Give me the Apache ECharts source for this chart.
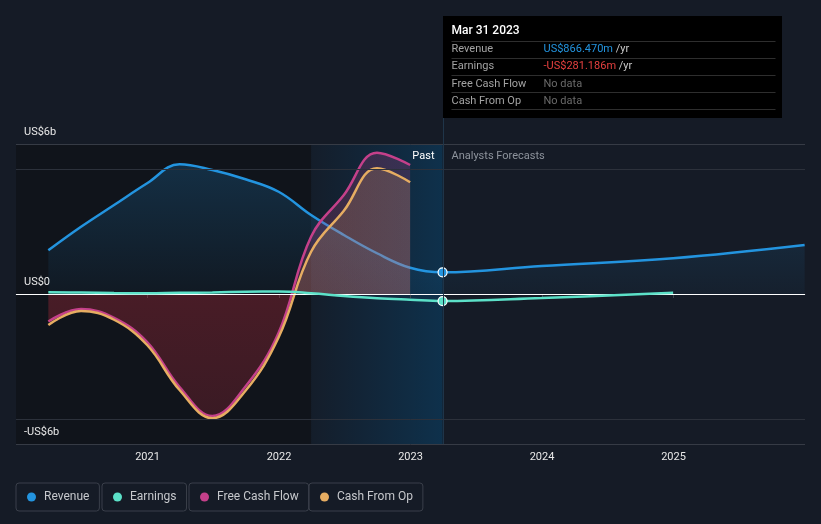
<!DOCTYPE html>
<html><head><meta charset="utf-8">
<script src="https://cdn.jsdelivr.net/npm/echarts@6/dist/echarts.min.js"></script>
<style>html,body{margin:0;padding:0;background:#151b26;}#c{width:821px;height:524px;}</style>
</head><body><div id="c"></div>
<script>
// ---- data (values in US$ billions) ----
const pastDates = ['2020-03-31','2020-06-30','2020-09-30','2020-12-31','2021-03-31','2021-06-30','2021-09-30','2021-12-31','2022-03-31','2022-06-30','2022-09-30','2022-12-31','2023-03-31'];
const revenuePast = [1.75, 2.69, 3.56, 4.43, 5.19, 4.96, 4.59, 4.09, 3.16, 2.36, 1.63, 1.05, 0.866];
const revenueForecastDates = ['2023-12-31','2024-12-31','2025-12-31'];
const revenueForecast = [1.12, 1.43, 1.96];
const earningsPast = [0.07, 0.06, 0.04, 0.03, 0.05, 0.06, 0.09, 0.10, 0.03, -0.08, -0.17, -0.23, -0.281];
const earningsForecastDates = ['2023-12-31','2024-12-31'];
const earningsForecast = [-0.16, 0.05];
const cashDates = ['2020-03-31','2020-06-30','2020-09-30','2020-12-31','2021-03-31','2021-06-30','2021-09-30','2021-12-31','2022-03-31','2022-06-30','2022-09-30','2022-12-31'];
const fcfValues = [-1.10, -0.60, -0.95, -1.92, -3.72, -4.88, -3.70, -1.55, 2.29, 3.96, 5.65, 5.16];
const cfoValues = [-1.24, -0.68, -1.03, -2.04, -3.84, -4.97, -3.87, -1.73, 1.69, 3.33, 5.03, 4.47];
const yearTicks = [2021, 2022, 2023, 2024, 2025];
const yTickLabels = {'-6': '-US$6b', '0': 'US$0', '6': 'US$6b'};
const extraGridValues = [-5, 5];
const xRange = [2020, 2026];
const yRange = [-6, 6];
const bandStart = '2022-03-31';
const nowDate = '2023-03-31';

const C = {rev:'#2394df', earn:'#5ce1c8', fcf:'#c4408a', cfo:'#e6ad62'};

function yf(s){const d=new Date(s+'T00:00:00Z');const y=d.getUTCFullYear();const a=Date.UTC(y,0,1),b=Date.UTC(y+1,0,1);return y+(d-a)/(b-a);}
function zip(ds,vs,markLast){return ds.map((d,i)=>{const it={value:[yf(d),vs[i]]};if(markLast&&d===nowDate){it.symbol='circle';it.symbolSize=9;}return it;});}

const chart = echarts.init(document.getElementById('c'));
const gridTop=144, gridH=300;
const revData = zip(pastDates.concat(revenueForecastDates), revenuePast.concat(revenueForecast), true);
const earnData = zip(pastDates.concat(earningsForecastDates), earningsPast.concat(earningsForecast), true);

function legend(name,left){return {data:[{name:name,icon:'circle'}],left:left,top:483,itemWidth:9,itemHeight:9,selectedMode:false,
 itemStyle:{borderWidth:0},
 borderColor:'#3a3f4a',borderWidth:1,borderRadius:3,padding:[8,10,8,11],
 textStyle:{color:'#c6c8cc',fontSize:12,fontFamily:'Roboto',padding:[0,0,0,3]}};}

const option = {
 backgroundColor:'#151b26',
 animation:false,
 textStyle:{fontFamily:'Roboto'},
 grid:{left:16,right:16,top:gridTop,height:gridH},
 legend:[legend('Revenue',16),legend('Earnings',102),legend('Free Cash Flow',189),legend('Cash From Op',309)],
 xAxis:{type:'value',min:xRange[0],max:xRange[1],interval:1,
  axisLine:{lineStyle:{color:'#3d424c'}},
  axisTick:{show:true,customValues:yearTicks,length:4,lineStyle:{color:'#3d424c'}},
  axisLabel:{customValues:yearTicks,color:'#e8e8e8',fontSize:11,margin:8,formatter:v=>String(v)},
  splitLine:{show:false}},
 yAxis:{type:'value',min:yRange[0],max:yRange[1],interval:6,
  axisLine:{show:false},axisTick:{show:false},
  axisLabel:{inside:true,margin:8,color:'#e8e8e8',fontSize:11,verticalAlign:'bottom',padding:[0,0,6,0],formatter:v=>yTickLabels[String(v)]||''},
  splitLine:{show:true,lineStyle:{color:'#363b45',width:1}}},
 series:[
  {type:'line',name:'bg',data:[],z:-1,zlevel:0,silent:true,
   markArea:{silent:true,z:-1,data:[
    [{xAxis:xRange[0],itemStyle:{color:'#10141b'}},{xAxis:yf(bandStart)}],
    [{xAxis:yf(bandStart),itemStyle:{color:{type:'linear',x:0,y:0,x2:1,y2:0,colorStops:[{offset:0,color:'rgba(0,90,150,0.04)'},{offset:1,color:'rgba(0,95,155,0.32)'}]}}},{xAxis:yf(nowDate)}]
   ]},
   markLine:{silent:true,symbol:'none',label:{show:false},lineStyle:{color:'#2c313b',width:1,type:'solid'},data:extraGridValues.map(v=>({yAxis:v}))}
  },
  {type:'line',name:'Revenue',data:revData,z:2,smooth:0.4,showSymbol:true,symbol:'none',
   lineStyle:{color:C.rev,width:2.5},itemStyle:{color:C.rev,borderColor:'#fff',borderWidth:1.2},
   areaStyle:{color:{type:'linear',x:0,y:0,x2:0,y2:1,colorStops:[{offset:0,color:'rgba(35,148,223,0.30)'},{offset:1,color:'rgba(35,148,223,0.06)'}]}}},
  {type:'line',name:'Free Cash Flow',data:zip(cashDates,fcfValues),z:3,smooth:0.4,showSymbol:false,
   lineStyle:{color:C.fcf,width:2.5},itemStyle:{color:C.fcf},
   areaStyle:{color:{type:'linear',global:true,x:0,y:gridTop,x2:0,y2:gridTop+gridH,colorStops:[
     {offset:0,color:'rgba(190,70,140,0.33)'},{offset:0.5,color:'rgba(190,70,140,0.33)'},
     {offset:0.5,color:'rgba(155,40,55,0.58)'},{offset:1,color:'rgba(150,40,55,0.42)'}]}}},
  {type:'line',name:'Cash From Op',data:zip(cashDates,cfoValues),z:4,smooth:0.4,showSymbol:false,
   lineStyle:{color:C.cfo,width:2.5},itemStyle:{color:C.cfo},
   areaStyle:{color:{type:'linear',global:true,x:0,y:gridTop,x2:0,y2:gridTop+gridH,colorStops:[
     {offset:0,color:'rgba(233,176,97,0.25)'},{offset:0.5,color:'rgba(233,176,97,0.25)'},
     {offset:0.5,color:'rgba(150,40,55,0.0)'},{offset:1,color:'rgba(150,40,55,0.0)'}]}}},
  {type:'line',name:'Earnings',data:earnData,z:5,smooth:0.4,showSymbol:true,symbol:'none',
   lineStyle:{color:C.earn,width:2.5},itemStyle:{color:C.earn,borderColor:'#fff',borderWidth:1.2},
   markLine:{silent:true,symbol:'none',label:{show:false},lineStyle:{color:'#ffffff',width:1,type:'solid'},data:[{yAxis:0}]}}
 ]
};
chart.setOption(option);

const nx = Math.round(chart.convertToPixel({xAxisIndex:0}, yf(nowDate))) + 0.5;
const boxTop=16, boxBot=118, rowX=nx+8, valX=nx+100;
const g=[];
g.push({type:'line',shape:{x1:nx,y1:boxBot,x2:nx,y2:gridTop+gridH},style:{stroke:'#1f3549',lineWidth:1},z:10,silent:true});
g.push({type:'rect',shape:{x:nx-0.5,y:boxTop,width:339,height:boxBot-boxTop},style:{fill:'#000000'},z:20});
g.push({type:'text',x:rowX,y:31,style:{text:'Mar 31 2023',fill:'#ffffff',font:'500 12px Roboto',verticalAlign:'middle'},z:21});
[41.5,58.5,75.5,92.5,109.5].forEach(yy=>g.push({type:'line',shape:{x1:rowX,y1:yy,x2:nx+332,y2:yy},style:{stroke:'#2e2e2e',lineWidth:1},z:21}));
const rows=[['Revenue',49.5,'{a|US$866.470m}{b| /yr}'],['Earnings',66.5,'{c|-US$281.186m}{b| /yr}'],['Free Cash Flow',84,'{d|No data}'],['Cash From Op',101,'{d|No data}']];
rows.forEach(r=>{
 g.push({type:'text',x:rowX,y:r[1],style:{text:r[0],fill:'#a3a3a3',font:'11px Roboto',verticalAlign:'middle'},z:21});
 g.push({type:'text',x:valX,y:r[1],style:{text:r[2],verticalAlign:'middle',font:'11px Roboto',rich:{
  a:{fill:'#2394df',font:'11px Roboto'},b:{fill:'#c8c8c8',font:'11px Roboto'},c:{fill:'#e5403f',font:'11px Roboto'},d:{fill:'#6a6a6a',font:'11px Roboto'}}},z:21});
});
g.push({type:'text',x:nx-9,y:156,style:{text:'Past',fill:'#ffffff',font:'11px Roboto',align:'right',verticalAlign:'middle'},z:21});
g.push({type:'text',x:nx+8,y:156,style:{text:'Analysts Forecasts',fill:'#8d939c',font:'11px Roboto',align:'left',verticalAlign:'middle'},z:21});
chart.setOption({graphic:g});
</script></body></html>
